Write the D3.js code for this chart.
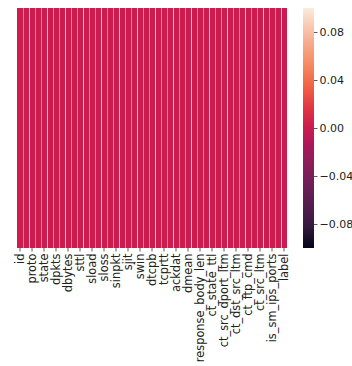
<!DOCTYPE html>
<html>
<head>
<meta charset="utf-8">
<script src="https://cdn.jsdelivr.net/npm/d3@7"></script>
<style>
  html, body { margin: 0; padding: 0; background: #fff; }
  svg { display: block; }
  text { font-family: "DejaVu Sans", sans-serif; fill: #222; }
</style>
</head>
<body>
<svg id="chart" width="352" height="366"></svg>
<script>
// Feature columns of the dataset (all 45)
const columns = [
  "id", "dur", "proto", "service", "state", "spkts", "dpkts", "sbytes", "dbytes",
  "rate", "sttl", "dttl", "sload", "dload", "sloss", "dloss", "sinpkt", "dinpkt",
  "sjit", "djit", "swin", "stcpb", "dtcpb", "dwin", "tcprtt", "synack", "ackdat",
  "smean", "dmean", "trans_depth", "response_body_len", "ct_srv_src", "ct_state_ttl",
  "ct_dst_ltm", "ct_src_dport_ltm", "ct_dst_sport_ltm", "ct_dst_src_ltm",
  "is_ftp_login", "ct_ftp_cmd", "ct_flw_http_mthd", "ct_src_ltm", "ct_srv_dst",
  "is_sm_ips_ports", "attack_cat", "label"
];

// Missing-value counts per column
const missing = [
  0, 0, 0, 0, 0, 0, 0, 0, 0,
  0, 0, 0, 0, 0, 0, 0, 0, 0,
  0, 0, 0, 0, 0, 0, 0, 0, 0,
  0, 0, 0, 0, 0, 0,
  0, 0, 0, 0,
  0, 0, 0, 0, 0,
  0, 0, 0
];

// Colour bar tick values
const cbarTicks = [0.08, 0.04, 0.00, -0.04, -0.08];

// Colour range of the bar
const vmin = -0.1, vmax = 0.1;

// Rocket colormap stops (position along the map, colour)
const rocketPos = [0, 0.09, 0.18, 0.27, 0.36, 0.43, 0.5, 0.58, 0.67, 0.76, 0.86, 1];
const rocketStops = [
  "#03051a", "#35193e", "#541e4e", "#701f57", "#8e1d5b", "#ad1759",
  "#cb1b4f", "#e13342", "#f06043", "#f58860", "#f6ad8f", "#faebdd"
];

const svg = d3.select("#chart");

const heat = { left: 17, top: 8, right: 287, bottom: 248 };
const cbar = { left: 303, right: 314, top: 8, bottom: 248 };

const x = d3.scaleBand()
  .domain(columns)
  .range([heat.left, heat.right])
  .paddingInner(0).paddingOuter(0);

const rocket = d3.scaleLinear()
  .domain(rocketPos.map(t => vmin + t * (vmax - vmin)))
  .range(rocketStops)
  .interpolate(d3.interpolateRgb)
  .clamp(true);

// Heatmap cells
const cells = svg.append("g");
cells.selectAll("rect")
  .data(columns.map((c, i) => ({ col: c, v: missing[i] })))
  .join("rect")
  .attr("x", d => x(d.col))
  .attr("y", heat.top)
  .attr("width", x.bandwidth())
  .attr("height", heat.bottom - heat.top)
  .attr("fill", d => rocket(d.v));

// Soft light seams between the cells
cells.selectAll("line")
  .data(columns.slice(1))
  .join("line")
  .attr("x1", d => x(d) + 0.5)
  .attr("x2", d => x(d) + 0.5)
  .attr("y1", heat.top)
  .attr("y2", heat.bottom)
  .attr("stroke", "#fff")
  .attr("stroke-opacity", (d, i) => (i % 3 === 1 ? 0.7 : 0.45))
  .attr("stroke-width", 1);

// X axis: every second column labelled
const tickCols = columns.filter((_, i) => i % 2 === 0);
const xAxis = d3.axisBottom(x)
  .tickValues(tickCols)
  .tickSize(3.5)
  .tickPadding(2);

const gx = svg.append("g")
  .attr("transform", `translate(0,${heat.bottom})`)
  .call(xAxis);
gx.select(".domain").remove();
gx.selectAll(".tick line").attr("stroke", "#333").attr("stroke-width", 0.8);
gx.selectAll(".tick text")
  .attr("font-size", "11.4px")
  .attr("font-family", "DejaVu Sans, sans-serif")
  .attr("fill", "#222")
  .attr("transform", "rotate(-90)")
  .attr("text-anchor", "end")
  .attr("dominant-baseline", "middle")
  .attr("x", -5.5)
  .attr("y", 0)
  .attr("dy", null);

// Colour bar gradient
const defs = svg.append("defs");
const grad = defs.append("linearGradient")
  .attr("id", "rocketGrad")
  .attr("x1", 0).attr("y1", 1).attr("x2", 0).attr("y2", 0);
grad.selectAll("stop")
  .data(rocketStops)
  .join("stop")
  .attr("offset", (d, i) => rocketPos[i])
  .attr("stop-color", d => d);

svg.append("rect")
  .attr("x", cbar.left)
  .attr("y", cbar.top)
  .attr("width", cbar.right - cbar.left)
  .attr("height", cbar.bottom - cbar.top)
  .attr("fill", "url(#rocketGrad)");

const cy = d3.scaleLinear().domain([vmin, vmax]).range([cbar.bottom, cbar.top]);
const cAxis = d3.axisRight(cy)
  .tickValues(cbarTicks)
  .tickSize(3.5)
  .tickPadding(2)
  .tickFormat(d => d3.format(".2f")(d).replace("-", "\u2212"));

const gc = svg.append("g")
  .attr("transform", `translate(${cbar.right},0)`)
  .call(cAxis);
gc.select(".domain").remove();
gc.selectAll(".tick line").attr("stroke", "#333").attr("stroke-width", 0.8);
gc.selectAll(".tick text")
  .attr("font-size", "11px")
  .attr("font-family", "DejaVu Sans, sans-serif")
  .attr("fill", "#222");
</script>
</body>
</html>
